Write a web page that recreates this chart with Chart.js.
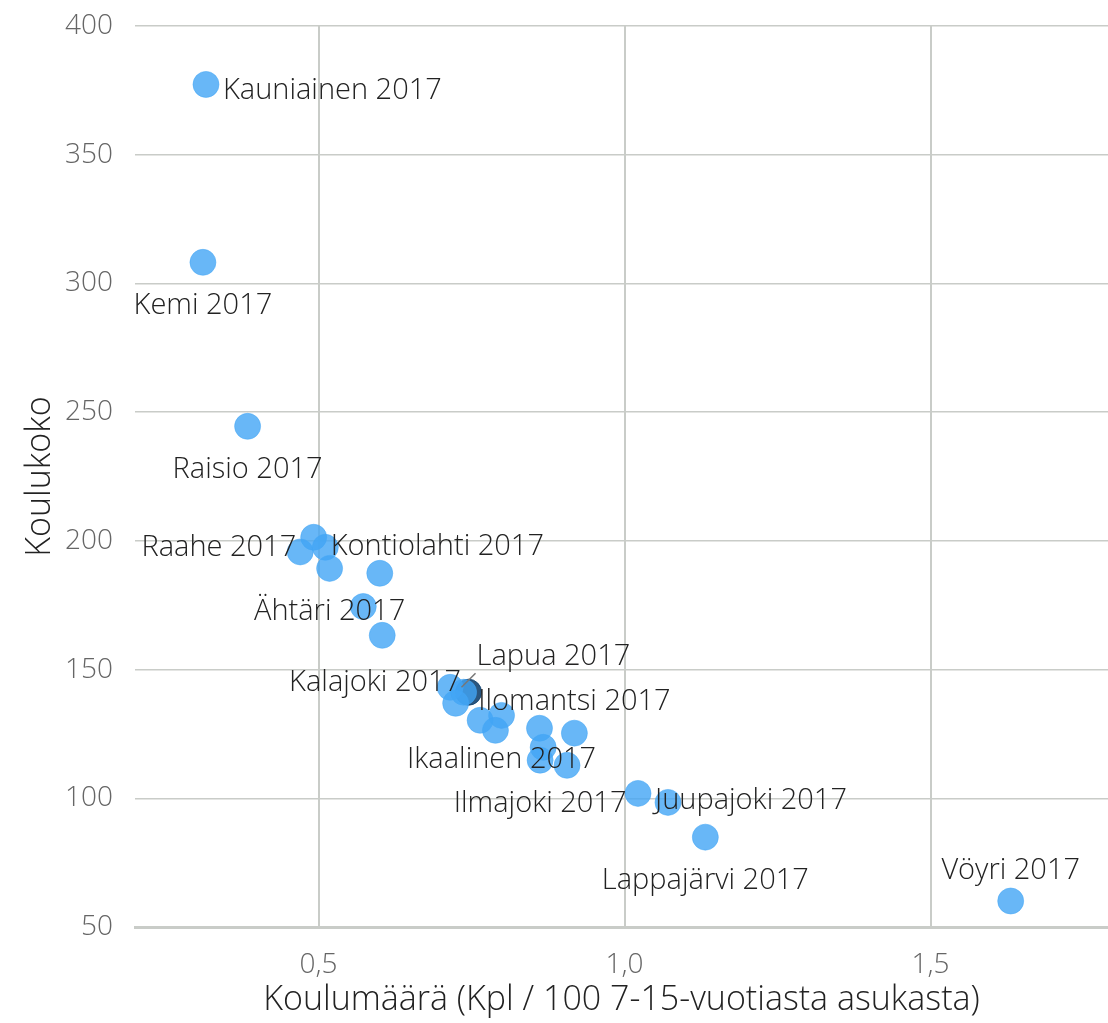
<!DOCTYPE html>
<html lang="fi">
<head>
<meta charset="UTF-8">
<title>Koulukoko ja koulumäärä</title>
<script src="https://cdn.jsdelivr.net/npm/chart.js"></script>
<style>
    html, body { margin: 0; padding: 0; background: #fff; overflow: hidden; }
    #wrap { width: 1108px; height: 1023px; }
    canvas { display: block; }
</style>
</head>
<body>
<div id="wrap">
    <canvas id="myChart" width="1108" height="1023"></canvas>
</div>

<script>
    // kunta, koulumäärä (kpl / 100 7-15-v asukasta), koulukoko
    const names = [
        'Kauniainen 2017', 'Kemi 2017', 'Raisio 2017', 'Raahe 2017', 'Kontiolahti 2017',
        '', 'Ähtäri 2017', '', '', '',
        'Kalajoki 2017', '', 'Lapua 2017', '', '',
        'Ikaalinen 2017', '', '', 'Ilomantsi 2017', '',
        'Ilmajoki 2017', '', 'Juupajoki 2017', '', 'Lappajärvi 2017',
        'Vöyri 2017'
    ];
    const schoolCount = [
        0.316, 0.311, 0.384, 0.470, 0.492,
        0.511, 0.518, 0.600, 0.573, 0.604,
        0.715, 0.737, 0.745, 0.724, 0.764,
        0.799, 0.789, 0.861, 0.918, 0.867,
        0.862, 0.906, 1.022, 1.071, 1.132,
        1.631
    ];
    const schoolSize = [
        377.3, 308.2, 244.5, 195.7, 201.4,
        197.5, 189.3, 187.4, 174.5, 163.3,
        143.1, 141.2, 141.2, 136.9, 130.3,
        132.2, 126.4, 127.2, 125.3, 119.8,
        114.8, 112.8, 101.9, 98.4, 84.9,
        60.1
    ];
    const highlighted = 'Lapua 2017';
    const xTicks = [0.5, 1.0, 1.5];

    const normalPts = [];
    const highPts = [];
    names.forEach((n, i) => {
        const p = { x: schoolCount[i], y: schoolSize[i], name: n };
        if (n === highlighted) highPts.push(p); else normalPts.push(p);
    });

    // label placement: [dx, dy, align]
    const place = {
        'Kauniainen 2017': [17, 6, 'left'],
        'Kemi 2017': [0, 43, 'center'],
        'Raisio 2017': [0, 43, 'center'],
        'Raahe 2017': [-4, -4, 'right'],
        'Kontiolahti 2017': [17, 9, 'left'],
        'Ähtäri 2017': [0, 43, 'center'],
        'Kalajoki 2017': [11, -5, 'right'],
        'Lapua 2017': [8, -35, 'left'],
        'Ikaalinen 2017': [0, 44, 'center'],
        'Ilomantsi 2017': [0, -31, 'center'],
        'Ilmajoki 2017': [0, 44, 'center'],
        'Juupajoki 2017': [17, 7, 'left'],
        'Lappajärvi 2017': [0, 44, 'center'],
        'Vöyri 2017': [0, -30, 'center']
    };

    const pointLabels = {
        id: 'pointLabels',
        afterDatasetsDraw(chart) {
            const ctx = chart.ctx;
            ctx.save();
            ctx.font = '300 29px "Open Sans"';
            ctx.fillStyle = '#222';
            ctx.textBaseline = 'middle';
            chart.data.datasets.forEach((ds, di) => {
                const meta = chart.getDatasetMeta(di);
                ds.data.forEach((p, i) => {
                    const pos = place[p.name];
                    if (!pos) return;
                    const el = meta.data[i];
                    if (p.name === highlighted) {
                        ctx.strokeStyle = '#777';
                        ctx.lineWidth = 1.5;
                        ctx.beginPath();
                        ctx.moveTo(el.x - 7, el.y - 5);
                        ctx.lineTo(el.x + 7, el.y - 19);
                        ctx.stroke();
                    }
                    ctx.textAlign = pos[2];
                    ctx.fillText(p.name, el.x + pos[0], el.y + pos[1]);
                });
            });
            ctx.restore();
        }
    };

    // plot area runs to the right edge of the canvas
    const fullWidth = {
        id: 'fullWidth',
        afterLayout(chart) {
            const r = chart.width;
            const ca = chart.chartArea;
            ca.right = r;
            ca.width = r - ca.left;
            const xs = chart.scales.x;
            xs.right = r;
            xs.width = r - xs.left;
            xs.configure();
        }
    };

    const gridColor = '#c9ccc8';

    const config = {
        type: 'scatter',
        data: {
            datasets: [{
                label: 'Kunnat',
                data: normalPts,
                backgroundColor: 'rgba(66, 165, 245, 0.8)',
                borderColor: 'rgba(66, 165, 245, 0.5)',
                borderWidth: 1,
                pointRadius: 13,
                pointHoverRadius: 13
            }, {
                label: highlighted,
                data: highPts,
                backgroundColor: 'rgba(20, 68, 112, 0.9)',
                borderColor: 'rgba(20, 68, 112, 0.9)',
                borderWidth: 1,
                pointRadius: 13,
                pointHoverRadius: 13
            }]
        },
        options: {
            responsive: false,
            animation: false,
            layout: { padding: { left: 0, top: 26, right: 0, bottom: 0 } },
            plugins: {
                legend: { display: false },
                tooltip: { enabled: false }
            },
            scales: {
                x: {
                    type: 'linear',
                    min: 0.2,
                    max: 1.79,
                    afterBuildTicks: axis => {
                        axis.ticks = xTicks.map(v => ({ value: v }));
                    },
                    afterFit: s => {
                        s.paddingLeft = 0;
                        s.paddingRight = 0;
                        s.height = 96;
                    },
                    grid: { color: gridColor, lineWidth: 2, drawTicks: false },
                    border: { color: gridColor, width: 3 },
                    ticks: {
                        padding: 21,
                        color: '#666',
                        font: { family: 'Open Sans', size: 28, weight: '300' },
                        callback: v => v.toFixed(1).replace('.', ',')
                    },
                    title: {
                        display: true,
                        text: 'Koulumäärä (Kpl / 100 7-15-vuotiasta asukasta)',
                        color: '#222',
                        font: { family: 'Open Sans', size: 34, weight: '300' },
                        padding: { top: 0, bottom: 2 }
                    }
                },
                y: {
                    min: 50,
                    max: 400,
                    afterFit: s => {
                        s.paddingTop = 0;
                        s.paddingBottom = 0;
                        s.width = 135;
                    },
                    ticks: {
                        stepSize: 50,
                        padding: 22,
                        color: '#666',
                        font: { family: 'Open Sans', size: 28, weight: '300' }
                    },
                    grid: { color: gridColor, lineWidth: 1.5, drawTicks: false },
                    border: { display: false },
                    title: {
                        display: true,
                        text: 'Koulukoko',
                        color: '#222',
                        font: { family: 'Open Sans', size: 34, weight: '300' },
                        padding: { top: 20, bottom: 4 }
                    }
                }
            }
        },
        plugins: [fullWidth, pointLabels]
    };

    new Chart(document.getElementById('myChart'), config);
</script>
</body>
</html>
